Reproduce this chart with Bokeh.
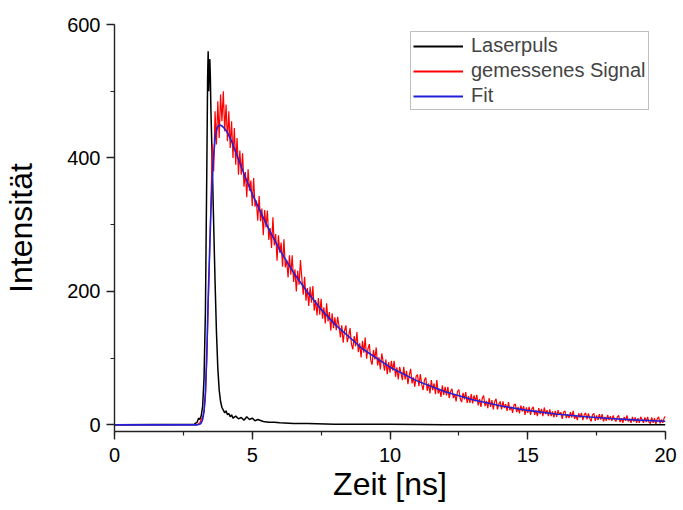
import numpy as np
from bokeh.plotting import figure
from bokeh.models import Range1d, SingleIntervalTicker, Legend, LegendItem
from bokeh.embed import file_html
from bokeh.resources import INLINE

# ---- Laserpuls (time in ns, intensity) ----
laser_t = [0.0, 2.9, 3.0, 3.05, 3.1, 3.15, 3.2, 3.25, 3.3, 3.35, 3.38, 3.40, 3.42,
           3.44, 3.46, 3.48, 3.50, 3.55, 3.60, 3.65, 3.70, 3.75, 3.80, 3.85, 3.90,
           3.95, 4.0, 4.05, 4.1, 4.15, 4.2, 4.25, 4.3, 4.4, 4.5, 4.6, 4.7, 4.8, 4.9,
           5.0, 5.1, 5.2, 5.4, 5.6, 5.8, 6.0, 6.5, 7.0, 8.0, 10.0, 12.0, 15.0, 20.0]
laser_i = [0, 1, 4, 10, 8, 14, 28, 70, 170, 380, 520, 560, 500,
           540, 548, 520, 470, 390, 300, 215, 140, 85, 52, 35, 26,
           22, 18, 21, 15, 17, 12, 15, 10, 13, 9, 11, 7, 12, 8,
           10, 6, 8, 5, 4, 4, 3, 2, 2, 1, 1, 0, 0, 0]

# ---- Fit ----
fit_t = [0.0, 3.0, 3.1, 3.15, 3.2, 3.25, 3.3, 3.35, 3.4, 3.45, 3.5, 3.55, 3.6,
         3.65, 3.7, 3.75, 3.8, 3.85, 3.9, 4.0, 4.1, 4.25, 4.5, 4.75, 5.0, 5.5,
         6.0, 6.5, 7.0, 7.5, 8.0, 9.0, 10.0, 11.0, 12.0, 13.0, 14.0, 15.0, 16.0,
         17.0, 18.0, 19.0, 20.0]
fit_i = [0, 0, 1, 3, 8, 20, 50, 108, 190, 257, 320, 371, 405,
         428, 441, 447, 449, 449, 448, 444, 438, 425, 398, 371, 346, 301.5,
         262, 228, 199, 173, 150.6, 114, 86.4, 65.5, 49.6, 37.6, 28.5, 21.6, 16.3,
         12.4, 9.4, 7.1, 5.4]

# ---- gemessenes Signal ----
sig_t_rise = [0.0, 3.0, 3.1, 3.15, 3.2, 3.25]
sig_i_rise = [0, 0, 3, 8, 12, 20]
# from 3.30 ns, every 0.05 ns
sig_i_a = [40, 95, 175, 250, 335, 420, 380, 470, 420, 485, 430, 495, 455, 500, 440,
           480, 425, 470, 415, 455, 400, 445, 390, 430, 375,
           411, 375, 407, 357, 379, 341, 383, 351, 366, 328,
           370, 327, 336, 306, 343, 305, 324, 284, 322, 296,
           321, 277, 295, 265, 311, 269, 286, 246, 284, 258,
           273, 237, 278, 236, 247, 221, 254, 225, 254, 214,
           233, 200, 231, 210, 247, 220, 195, 222, 186, 205,
           178, 207, 183, 208, 171, 187, 164, 190, 165, 189,
           159, 176, 152, 182, 155, 169, 141, 167, 145]
# from 8.0 ns, every 0.05 ns
sig_i_b = [161, 142, 162, 148, 131, 149, 123, 141, 149, 124, 133, 145, 121, 113, 133, 118, 139, 109, 122, 101,
           126, 108, 131, 99, 114, 121, 97, 90, 112, 98, 116, 89, 101, 83, 107, 95, 81, 98, 76, 94,
           78, 96, 81, 96, 72, 86, 68, 87, 78, 67, 87, 68, 81, 61, 75, 84, 62, 71, 57, 73,
           75, 58, 76, 61, 52, 67, 71, 51, 62, 47, 67, 52, 62, 46, 67, 47, 54, 42, 59, 45,
           57, 44, 57, 40, 50, 54, 40, 46, 35, 50, 53, 39, 34, 48, 38, 49, 33, 43, 33, 46,
           32, 44, 35, 45, 29, 39, 27, 40, 44, 28, 36, 25, 40, 27, 37, 23, 35, 39, 23, 31,
           35, 23, 35, 25, 31, 21, 34, 22, 27, 18, 30, 31, 19, 27, 17, 29, 20, 28, 15, 26,
           18, 27, 15, 24, 27, 15, 22, 13, 25, 16, 24, 13, 26, 16, 22, 13, 23, 13, 20, 11,
           21, 12, 22, 15, 19, 9, 19, 21, 10, 16, 10, 19, 11, 21, 9, 14, 7, 17, 11, 18,
           7, 15, 18, 8, 17, 10, 5, 15, 17, 6, 14, 7, 16, 8, 16, 5, 12, 6, 15, 7,
           13, 6, 14, 8, 5, 12, 14, 4, 10, 3, 12, 6, 14, 5, 9, 3, 12, 5, 11, 3,
           10, 3, 12, 8, 3, 11, 4, 12, 4, 2, 11, 3, 10, 1, 9, 12, 2, 8, 3, 10,
           13]

sig_t_a = list(np.round(3.30 + 0.05 * np.arange(len(sig_i_a)), 2))
sig_t_b = list(np.round(8.0 + 0.05 * np.arange(len(sig_i_b)), 2))
sig_t = sig_t_rise + sig_t_a + sig_t_b
sig_i = sig_i_rise + sig_i_a + sig_i_b

legend_labels = ["Laserpuls", "gemessenes Signal", "Fit"]
colors = ["black", "#ff0000", "#2020d8"]

FONT = "Liberation Sans"

p = figure(width=680, height=508, x_range=Range1d(0, 20), y_range=Range1d(-10, 600),
           output_backend="svg", toolbar_location=None,
           min_border_left=113, min_border_right=15, min_border_top=24, min_border_bottom=77)
p.xgrid.visible = False
p.ygrid.visible = False
p.outline_line_color = None
p.background_fill_color = "white"
p.border_fill_color = "white"

p.line(laser_t, laser_i, line_color=colors[0], line_width=1.5)
p.line(sig_t, sig_i, line_color=colors[1], line_width=1.2)
p.line(fit_t, fit_i, line_color=colors[2], line_width=1.6)

# legend proxies: lie outside the visible ranges, so only their legend glyphs show
proxies = [p.line([-5, -4], [-100, -100], line_color=c, line_width=2) for c in colors]

p.xaxis.ticker = SingleIntervalTicker(interval=5, num_minor_ticks=2)
p.yaxis.ticker = SingleIntervalTicker(interval=200, num_minor_ticks=2)

for ax in (p.xaxis[0], p.yaxis[0]):
    ax.axis_line_color = "#222222"
    ax.axis_line_width = 1.4
    ax.major_tick_line_color = "#222222"
    ax.minor_tick_line_color = "#222222"
    ax.major_tick_line_width = 1.4
    ax.minor_tick_line_width = 1.2
    ax.major_tick_in = 0
    ax.major_tick_out = 8
    ax.minor_tick_in = 0
    ax.minor_tick_out = 4
    ax.major_label_text_font = FONT
    ax.major_label_text_font_size = "20px"
    ax.major_label_text_color = "black"
    ax.axis_label_text_font = FONT
    ax.axis_label_text_font_size = "32px"
    ax.axis_label_text_font_style = "normal"
    ax.axis_label_text_color = "black"

p.xaxis.axis_label = "Zeit [ns]"
p.yaxis.axis_label = "Intensität"
p.xaxis.major_label_standoff = 8
p.xaxis.axis_label_standoff = 1
p.yaxis.major_label_standoff = 6
p.yaxis.axis_label_standoff = 25

legend = Legend(items=[LegendItem(label=l, renderers=[r]) for l, r in zip(legend_labels, proxies)],
                location=(296, 321), margin=0, padding=2, spacing=2,
                glyph_width=50, glyph_height=20, label_height=20, label_standoff=8,
                label_text_font=FONT, label_text_font_size="20px",
                border_line_color="#808080", border_line_width=1,
                background_fill_color="white", background_fill_alpha=1)
p.add_layout(legend)

open("out.html", "w").write(file_html(p, INLINE))
